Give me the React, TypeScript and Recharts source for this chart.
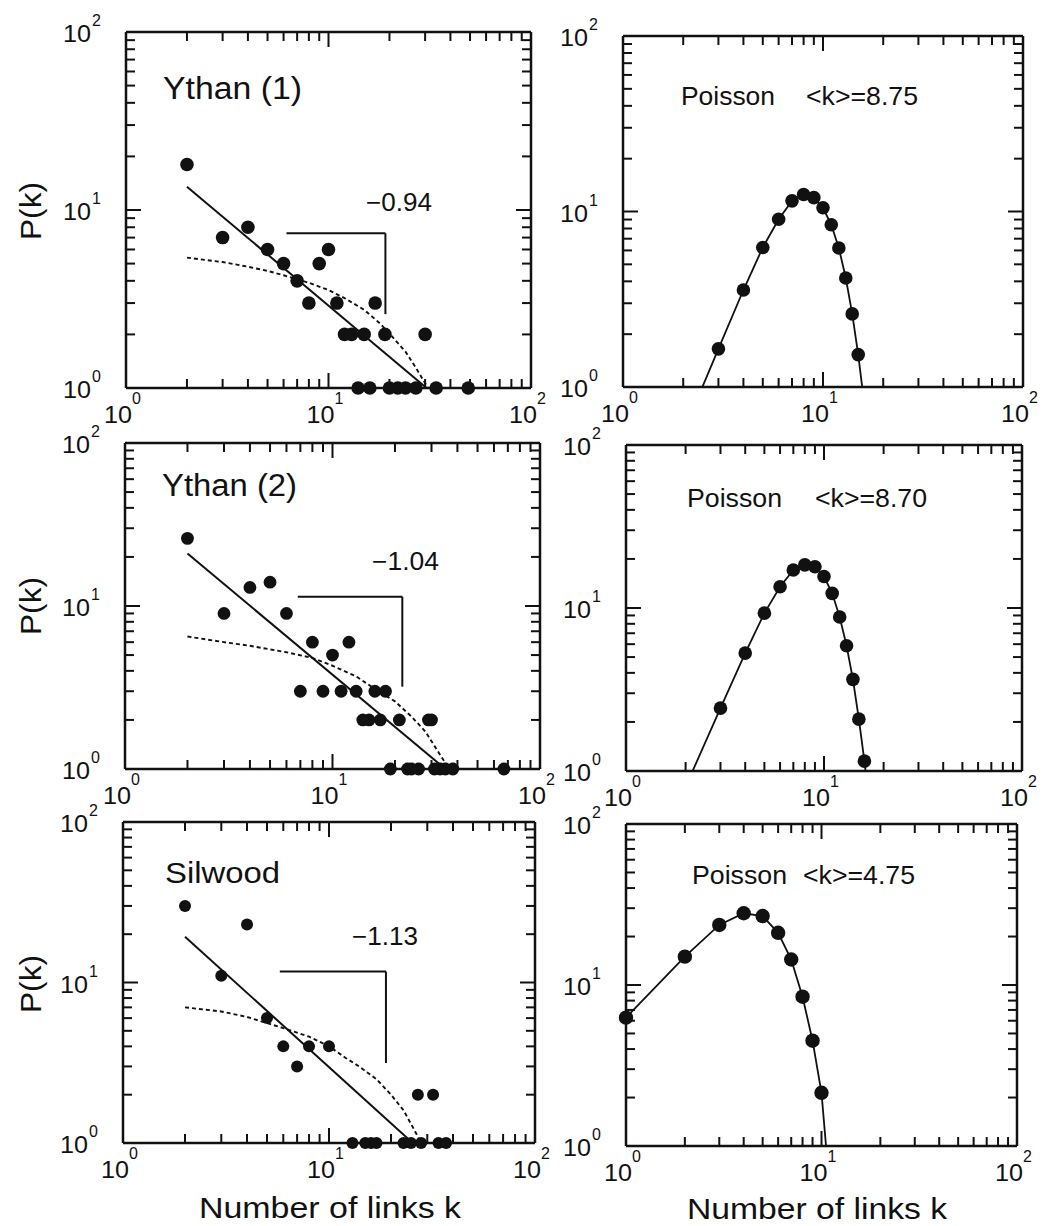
import React from 'react';
import { ComposedChart, Scatter, Line, XAxis, YAxis, ReferenceLine } from 'recharts';

const FONT = '"Liberation Sans", Arial, Helvetica, sans-serif';
const INK = '#111';
const TICKS = [1, 2, 3, 4, 5, 6, 7, 8, 9, 10, 20, 30, 40, 50, 60, 70, 80, 90, 100];
const DECADE_EXP: Record<number, string> = { 1: '0', 10: '1', 100: '2' };

// ---------- Ythan (1) ----------
const ythan1K = [2, 3, 4, 5, 6, 7, 8, 9, 10, 11, 12, 13, 14, 15, 16, 17, 19, 20, 22, 24, 27, 30, 34, 49];
const ythan1P = [18, 7, 8, 6, 5, 4, 3, 5, 6, 3, 2, 2, 1, 2, 1, 3, 2, 1, 1, 1, 1, 2, 1, 1];
const ythan1FitK = [2, 30.5];
const ythan1FitP = [13.5, 1];
const ythan1ExpK = [2, 3, 4, 5, 6, 8, 10, 12, 15, 18, 21, 24, 27, 31];
const ythan1ExpP = [5.4, 5.1, 4.8, 4.55, 4.3, 3.9, 3.55, 3.2, 2.75, 2.3, 1.9, 1.6, 1.3, 1.0];
const ythan1SlopeK = [6.2, 19.1];
const ythan1SlopeP = [7.4, 2.6];

// ---------- Ythan (2) ----------
const ythan2K = [2, 3, 4, 5, 6, 7, 8, 9, 10, 11, 12, 13, 14, 15, 16, 17, 18, 19, 21, 23, 24, 26, 29, 30, 31, 33, 35, 38, 67];
const ythan2P = [26, 9, 13, 14, 9, 3, 6, 3, 5, 3, 6, 3, 2, 2, 3, 2, 3, 1, 2, 1, 1, 1, 2, 2, 1, 1, 1, 1, 1];
const ythan2FitK = [2, 35];
const ythan2FitP = [21, 1];
const ythan2ExpK = [2, 3, 4, 6, 8, 10, 13, 16, 20, 24, 28, 32, 36.5];
const ythan2ExpP = [6.5, 6.0, 5.7, 5.2, 4.8, 4.3, 3.7, 3.1, 2.6, 2.1, 1.7, 1.3, 1.0];
const ythan2SlopeK = [6.8, 21.7];
const ythan2SlopeP = [11.4, 3.2];

// ---------- Silwood ----------
const silwoodK = [2, 3, 4, 5, 6, 7, 8, 10, 13, 15, 16, 17, 23, 25, 27, 28, 32, 34, 37];
const silwoodP = [30, 11, 23, 6, 4, 3, 4, 4, 1, 1, 1, 1, 1, 1, 2, 1, 2, 1, 1];
const silwoodFitK = [2, 25.5];
const silwoodFitP = [19.3, 1];
const silwoodExpK = [2, 3, 4, 6, 8, 10, 12, 14, 17, 20, 23, 26, 28];
const silwoodExpP = [7.0, 6.6, 6.1, 5.2, 4.6, 4.0, 3.4, 3.0, 2.5, 2.0, 1.6, 1.2, 1.0];
const silwoodSlopeK = [5.77, 18.9];
const silwoodSlopeP = [11.7, 3.15];

// ---------- Poisson panels ----------
const poisson1K = [2, 3, 4, 5, 6, 7, 8, 9, 10, 11, 12, 13, 14, 15, 16];
const poisson1P = [0.55, 1.65, 3.57, 6.24, 9.04, 11.5, 12.5, 12.0, 10.5, 8.4, 6.19, 4.18, 2.61, 1.53, 0.84];
const poisson2K = [2, 3, 4, 5, 6, 7, 8, 9, 10, 11, 12, 13, 14, 15, 16, 17];
const poisson2P = [0.8, 2.43, 5.29, 9.3, 13.5, 17.1, 18.4, 17.9, 15.6, 12.3, 8.8, 5.87, 3.65, 2.08, 1.15, 0.6];
const poisson3K = [1, 2, 3, 4, 5, 6, 7, 8, 9, 10, 11];
const poisson3P = [6.27, 15.0, 23.6, 27.9, 26.8, 21.1, 14.4, 8.46, 4.51, 2.14, 0.55];

const zip = (k: number[], p: number[]) => k.map((x, i) => ({ k: x, p: p[i] }));

const TICK_MAJOR = 15;
const TICK_MINOR = 9;
const TICK_W = 2;
const LABEL_SIZE = 24;
const SUP_SIZE = 16;

function BottomTick(props: any) {
  const { x, y, payload } = props;
  const v = payload.value;
  const major = v in DECADE_EXP;
  return (
    <g>
      <line x1={x} y1={y} x2={x} y2={y - (major ? TICK_MAJOR : TICK_MINOR)} stroke={INK} strokeWidth={TICK_W} />
      {major && (
        <g fontFamily={FONT} fill={INK}>
          <text x={x - 8} y={y + 35} textAnchor="middle" fontSize={LABEL_SIZE} textLength={28} lengthAdjust="spacingAndGlyphs">10</text>
          <text x={x + 6} y={y + 16} textAnchor="start" fontSize={SUP_SIZE}>{DECADE_EXP[v]}</text>
        </g>
      )}
    </g>
  );
}

function TopTick(props: any) {
  const { x, y, payload } = props;
  const major = payload.value in DECADE_EXP;
  return <line x1={x} y1={y} x2={x} y2={y + (major ? TICK_MAJOR : TICK_MINOR)} stroke={INK} strokeWidth={TICK_W} />;
}

function LeftTick(props: any) {
  const { x, y, payload } = props;
  const v = payload.value;
  const major = v in DECADE_EXP;
  return (
    <g>
      <line x1={x} y1={y} x2={x + (major ? TICK_MAJOR : TICK_MINOR)} y2={y} stroke={INK} strokeWidth={TICK_W} />
      {major && (
        <g fontFamily={FONT} fill={INK}>
          <text x={x - 35} y={y + 10} textAnchor="end" fontSize={LABEL_SIZE} textLength={28} lengthAdjust="spacingAndGlyphs">10</text>
          <text x={x - 34} y={y - 6} textAnchor="start" fontSize={SUP_SIZE}>{DECADE_EXP[v]}</text>
        </g>
      )}
    </g>
  );
}

function RightTick(props: any) {
  const { x, y, payload } = props;
  const major = payload.value in DECADE_EXP;
  return <line x1={x} y1={y} x2={x - (major ? TICK_MAJOR : TICK_MINOR)} y2={y} stroke={INK} strokeWidth={TICK_W} />;
}

type Box = { x: number; y: number; w: number; h: number };
type PanelProps = {
  box: Box;
  points: { k: number; p: number }[];
  dotR: number;
  fit?: { k: number; p: number }[];
  exp?: { k: number; p: number }[];
  slopeK?: number[];
  slopeP?: number[];
  poisson?: { k: number; p: number }[];
};

const AXIS_LINE = { stroke: INK, strokeWidth: 2.5 };
const ML = 120;
const MT = 20;
const MR = 20;
const MB = 60;

function Panel({ box, points, dotR, fit, exp, slopeK, slopeP, poisson }: PanelProps) {
  const dot = (p: any) => <circle cx={p.cx} cy={p.cy} r={dotR} fill={INK} />;
  return (
    <div style={{ position: 'absolute', left: box.x - ML, top: box.y - MT }}>
      <ComposedChart
        width={box.w + ML + MR}
        height={box.h + MT + MB}
        margin={{ top: MT - 1, right: MR - 1, left: 0, bottom: 0 }}
      >
        <XAxis xAxisId="b" dataKey="k" type="number" scale="log" domain={[1, 100]} ticks={TICKS} interval={0}
          tickSize={0} tickMargin={0} tickLine={false} axisLine={AXIS_LINE} height={MB}
          tick={(p: any) => <BottomTick {...p} />} />
        <XAxis xAxisId="t" orientation="top" dataKey="k" type="number" scale="log" domain={[1, 100]} ticks={TICKS}
          interval={0} tickSize={0} tickMargin={0} tickLine={false} axisLine={AXIS_LINE} height={1} allowDataOverflow
          tick={(p: any) => <TopTick {...p} />} />
        <YAxis yAxisId="l" dataKey="p" type="number" scale="log" domain={[1, 100]} ticks={TICKS} interval={0}
          tickSize={0} tickMargin={0} tickLine={false} axisLine={AXIS_LINE} width={ML}
          tick={(p: any) => <LeftTick {...p} />} />
        <YAxis yAxisId="r" orientation="right" dataKey="p" type="number" scale="log" domain={[1, 100]} ticks={TICKS}
          interval={0} tickSize={0} tickMargin={0} tickLine={false} axisLine={AXIS_LINE} width={1} allowDataOverflow
          tick={(p: any) => <RightTick {...p} />} />
        {poisson && (
          <YAxis yAxisId="clip" orientation="right" hide width={0} dataKey="p" type="number" scale="log"
            domain={[1, 100]} allowDataOverflow />
        )}

        {exp && (
          <Line xAxisId="b" yAxisId="l" data={exp} dataKey="p" type="linear" stroke={INK} strokeWidth={1.9}
            strokeDasharray="4 3" dot={false} activeDot={false} isAnimationActive={false} />
        )}
        {fit && (
          <Line xAxisId="b" yAxisId="l" data={fit} dataKey="p" type="linear" stroke={INK} strokeWidth={2}
            dot={false} activeDot={false} isAnimationActive={false} />
        )}
        {poisson && (
          <Line xAxisId="b" yAxisId="clip" data={poisson} dataKey="p" type="linear" stroke={INK} strokeWidth={1.8}
            dot={false} activeDot={false} isAnimationActive={false} />
        )}
        {slopeK && slopeP && (
          <ReferenceLine xAxisId="b" yAxisId="l" stroke={INK} strokeWidth={2} ifOverflow="visible"
            segment={[{ x: slopeK[0], y: slopeP[0] }, { x: slopeK[1], y: slopeP[0] }]} />
        )}
        {slopeK && slopeP && (
          <ReferenceLine xAxisId="b" yAxisId="l" stroke={INK} strokeWidth={2} ifOverflow="visible"
            segment={[{ x: slopeK[1], y: slopeP[0] }, { x: slopeK[1], y: slopeP[1] }]} />
        )}
        <Scatter xAxisId="b" yAxisId="l" data={points} shape={dot} isAnimationActive={false} />
      </ComposedChart>
    </div>
  );
}

function Txt({ x, y, s, size, len, anchor = 'start' }: { x: number; y: number; s: string; size: number; len?: number; anchor?: string }) {
  return (
    <text x={x} y={y} fontSize={size} fontFamily={FONT} fill={INK} textAnchor={anchor as any}
      textLength={len} lengthAdjust={len ? 'spacingAndGlyphs' : undefined}>
      {s}
    </text>
  );
}

function YLabel({ x, y }: { x: number; y: number }) {
  return (
    <text transform={`translate(${x},${y}) rotate(-90)`} fontSize={30} fontFamily={FONT} fill={INK}
      textAnchor="middle" textLength={58} lengthAdjust="spacingAndGlyphs">
      P(k)
    </text>
  );
}

export default function App() {
  const ythan1 = zip(ythan1K, ythan1P);
  const ythan2 = zip(ythan2K, ythan2P);
  const silwood = zip(silwoodK, silwoodP);
  const pois1 = zip(poisson1K, poisson1P);
  const pois2 = zip(poisson2K, poisson2P);
  const pois3 = zip(poisson3K, poisson3P);
  const visible = (d: { k: number; p: number }[]) => d.filter((e) => e.p >= 1);

  return (
    <div style={{ position: 'absolute', left: 0, top: 0, width: 1046, height: 1226, background: '#fff', overflow: 'hidden' }}>
      <Panel box={{ x: 126, y: 32, w: 405, h: 356 }} points={ythan1} dotR={6.8}
        fit={zip(ythan1FitK, ythan1FitP)} exp={zip(ythan1ExpK, ythan1ExpP)} slopeK={ythan1SlopeK} slopeP={ythan1SlopeP} />
      <Panel box={{ x: 623, y: 36, w: 400, h: 351 }} points={visible(pois1)} dotR={6.8} poisson={pois1} />
      <Panel box={{ x: 125, y: 443, w: 415, h: 326 }} points={ythan2} dotR={6.4}
        fit={zip(ythan2FitK, ythan2FitP)} exp={zip(ythan2ExpK, ythan2ExpP)} slopeK={ythan2SlopeK} slopeP={ythan2SlopeP} />
      <Panel box={{ x: 626, y: 445, w: 396, h: 326 }} points={visible(pois2)} dotR={6.8} poisson={pois2} />
      <Panel box={{ x: 123, y: 822, w: 412, h: 321 }} points={silwood} dotR={6}
        fit={zip(silwoodFitK, silwoodFitP)} exp={zip(silwoodExpK, silwoodExpP)} slopeK={silwoodSlopeK} slopeP={silwoodSlopeP} />
      <Panel box={{ x: 626, y: 824, w: 391, h: 322 }} points={visible(pois3)} dotR={7.2} poisson={pois3} />

      <svg width={1046} height={1226} style={{ position: 'absolute', left: 0, top: 0, pointerEvents: 'none' }}>
        <Txt x={163} y={99} s="Ythan (1)" size={31} len={139} />
        <Txt x={162} y={496} s="Ythan (2)" size={31} len={135} />
        <Txt x={165} y={883} s="Silwood" size={30} len={115} />
        <Txt x={366} y={211} s="−0.94" size={25} len={66} />
        <Txt x={372} y={570} s="−1.04" size={25} len={67} />
        <Txt x={352} y={945} s="−1.13" size={25} len={66} />
        <Txt x={681} y={105} s="Poisson" size={25} len={94} />
        <Txt x={806} y={105} s="<k>=8.75" size={25} len={112} />
        <Txt x={687} y={507} s="Poisson" size={25} len={95} />
        <Txt x={815} y={507} s="<k>=8.70" size={25} len={112} />
        <Txt x={692} y={884} s="Poisson" size={25} len={95} />
        <Txt x={803} y={884} s="<k>=4.75" size={25} len={112} />
        <Txt x={330} y={1218} s="Number of links k" size={30} len={262} anchor="middle" />
        <Txt x={817} y={1219} s="Number of links k" size={30} len={260} anchor="middle" />
        <YLabel x={41} y={211} />
        <YLabel x={41} y={606} />
        <YLabel x={41} y={984} />
      </svg>
    </div>
  );
}
